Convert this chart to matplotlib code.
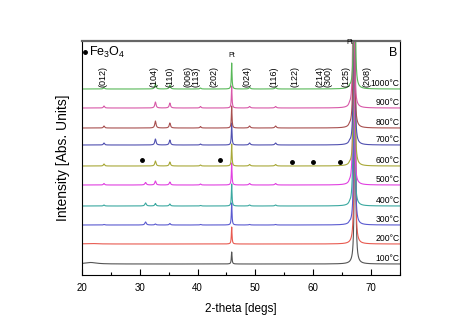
import numpy as np
import matplotlib
matplotlib.use("Agg")
from matplotlib import pyplot as plt

plt.rcParams['font.family'] = ['Liberation Sans', 'DejaVu Sans']
plt.rcParams['mathtext.fontset'] = 'custom'
plt.rcParams['mathtext.rm'] = 'Liberation Sans'
plt.rcParams['mathtext.default'] = 'regular'

# temperatures, bottom to top
temps = ['100°C', '200°C', '300°C', '400°C', '500°C', '600°C', '700°C', '800°C', '900°C', '1000°C']
colors = ['#555555', '#e85a50', '#5a5ad0', '#3aa8a0', '#e040e0', '#a8a838', '#5050b0', '#a85050', '#d858a8', '#58b858']
offsets = [11, 31, 50, 69, 90, 109, 130, 147, 167, 186]   # baseline of each trace
big_pos = [67.25, 67.2, 67.15, 67.05, 67.0, 67.1, 67.1, 67.05, 67.0, 67.15]  # substrate peak per trace

# peak positions (2-theta)
peak_pos = [21.5, 23.8, 31.0, 32.7, 35.2, 40.5, 45.9, 49.0, 53.5, 66.3]
peak_wid = [1.2, 0.12, 0.15, 0.13, 0.13, 0.12, 0.07, 0.15, 0.15, 0.15]
# peak heights for each temperature (same order as peak_pos)
peak_h = {
    '100°C':  [1.5, 0, 0, 0, 0, 0, 12, 0, 0, 0],
    '200°C':  [0.5, 0, 0, 0, 0, 0, 17, 0, 0, 0],
    '300°C':  [0, 0.5, 3, 1, 1.5, 0.5, 22, 0.5, 0.5, 1],
    '400°C':  [0, 1, 3, 2.5, 2, 0.5, 22, 1, 1, 1],
    '500°C':  [0, 1.5, 2.5, 4, 3, 1, 22, 1.5, 1.5, 1],
    '600°C':  [0, 2, 0, 5, 4, 1, 22, 1.5, 1.5, 1],
    '700°C':  [0, 2, 0, 6, 5, 1, 22, 2, 2, 1.5],
    '800°C':  [0, 2, 0, 7, 5, 1.5, 22, 2, 2, 1.5],
    '900°C':  [0, 2, 0, 6, 5, 1.5, 22, 1.5, 1.5, 1.5],
    '1000°C': [0, 1.5, 0, 5, 4, 1, 26, 1.5, 1.5, 1.5],
}
big_h = 400
big_w = 0.08

# hkl labels
hkl = ['(012)', '(104)', '(110)', '(006)', '(113)', '(202)', '(024)', '(116)', '(122)', '(214)', '(300)', '(125)', '(208)']
hkl_pos = [23.7, 32.4, 35.2, 38.4, 39.7, 42.8, 48.6, 53.3, 56.8, 61.15, 62.5, 65.6, 69.3]

# Fe3O4 markers on 600°C trace
fe_pos = [30.4, 43.9, 56.3, 60.0, 64.6]
fe_h = [6, 6, 4, 4, 4]

x = np.arange(20, 75.001, 0.01)

fig = plt.figure(figsize=(4.66, 3.28), dpi=100)
ax = fig.add_axes([0.176, 0.1616, 0.682, 0.7134])

for t, c, off, bp in zip(temps, colors, offsets, big_pos):
    y = np.full_like(x, float(off))
    for p, w, h in zip(peak_pos, peak_wid, peak_h[t]):
        y += h / (1 + ((x - p) / w) ** 2)
    y += big_h / (1 + ((x - bp) / big_w) ** 2)
    ax.plot(x, y, color=c, lw=0.8)
    ax.text(74.95, off + 1, t, ha='right', va='bottom', fontsize=6.2)

for lab, p in zip(hkl, hkl_pos):
    ax.text(p, 188, lab, rotation=90, ha='center', va='bottom', fontsize=6.5)

ax.plot(fe_pos, [offsets[5] + h for h in fe_h], 'o', color='k', ms=2.5)

ax.text(45.9, 216, 'Pt', ha='center', va='bottom', fontsize=5)
ax.text(66.3, 229, 'Pt', ha='center', va='bottom', fontsize=5)

ax.plot([20.6], [223], 'o', color='k', ms=2.5)
ax.text(21.2, 223, 'Fe$_3$O$_4$', ha='left', va='center', fontsize=9)
ax.text(74.6, 228, 'B', ha='right', va='top', fontsize=9)

ax.set_xlim(20, 75)
ax.set_ylim(0, 234)
ax.set_xticks(range(20, 71, 10))
ax.set_xticks(range(25, 76, 10), minor=True)
ax.tick_params(axis='x', direction='in', labelsize=7, length=4, width=0.8, pad=6)
ax.tick_params(axis='x', which='minor', direction='in', length=2.5, width=0.8)
ax.set_yticks([])
ax.spines['top'].set_linewidth(1.6)
ax.spines['top'].set_color('#666666')
ax.set_xlabel('2-theta [degs]', fontsize=8.5, labelpad=7)
ax.set_ylabel('Intensity [Abs. Units]', fontsize=10, labelpad=9)

fig.savefig('out.png', dpi=100)
